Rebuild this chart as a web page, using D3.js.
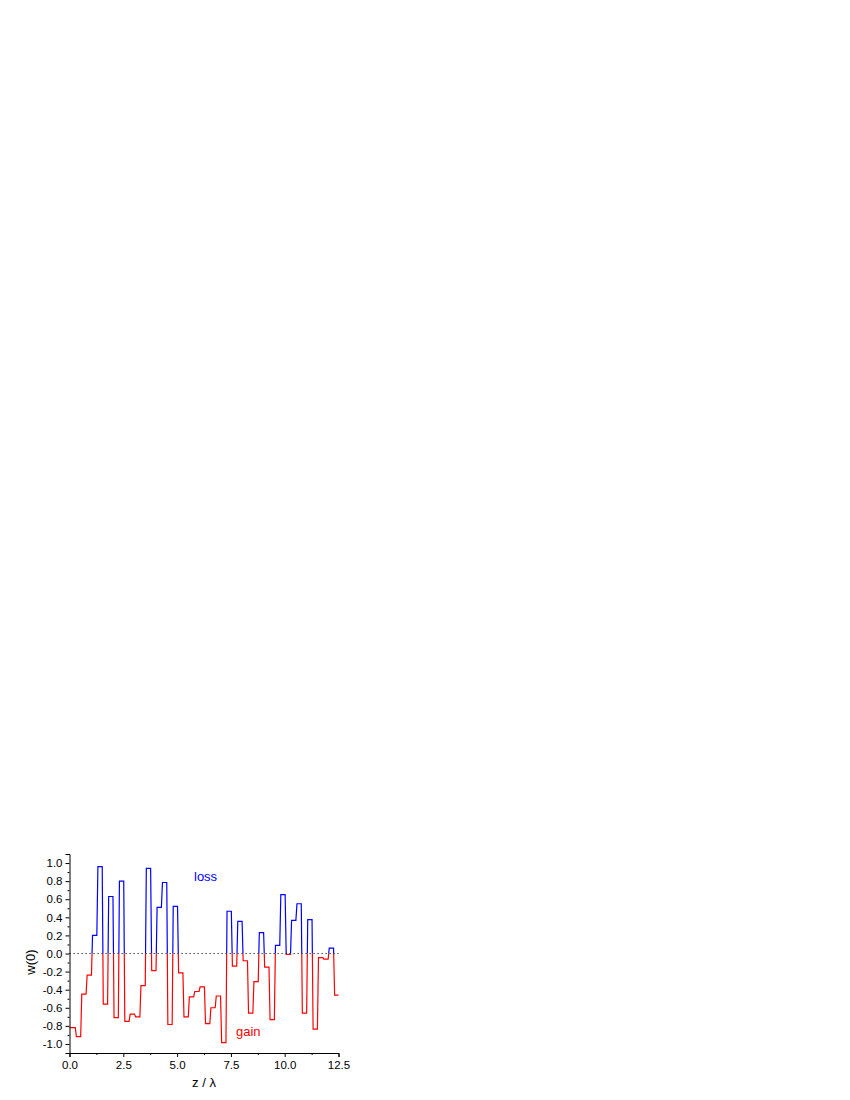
<!DOCTYPE html>
<html lang="en">
<head>
<meta charset="utf-8">
<title>w(0) vs z</title>
<script src="https://d3js.org/d3.v7.min.js"></script>
<style>
  body { margin: 0; background: #fff; }
  svg { display: block; font-family: "Liberation Sans", Arial, sans-serif; }
  .axis path, .axis line { stroke: #000; }
  .axis text { font-size: 11.5px; fill: #000; }
</style>
</head>
<body>
<div id="chart"></div>
<script>

var width = 850, height = 1100;

// step values of w(0), one per 0.25 lambda cell
var stepWidth = 0.25;
var wValues = [
  -0.82, -0.92, -0.45, -0.24, 0.20, 0.96, -0.56, 0.63, -0.71, 0.80,
  -0.75, -0.67, -0.70, -0.355, 0.94, -0.19, 0.51, 0.785, -0.785, 0.52,
  -0.215, -0.70, -0.48, -0.42, -0.37, -0.775, -0.60, -0.47, -0.985, 0.467,
  -0.14, 0.355, -0.08, -0.66, -0.31, 0.23, -0.15, -0.73, 0.09, 0.65,
  -0.01, 0.367, 0.55, -0.66, 0.375, -0.837, -0.045, -0.063, 0.06, -0.46
];

var xTicks = [0, 2.5, 5, 7.5, 10, 12.5];
var xMinor = [1.25, 3.75, 6.25, 8.75, 11.25];
var yTicks = [-1.0, -0.8, -0.6, -0.4, -0.2, 0.0, 0.2, 0.4, 0.6, 0.8, 1.0];
var yMinor = [-1.1, -0.9, -0.7, -0.5, -0.3, -0.1, 0.1, 0.3, 0.5, 0.7, 0.9, 1.1];

var x = d3.scaleLinear().domain([0, 12.5]).range([69.5, 338.5]);
var y = d3.scaleLinear().domain([-1.1, 1.1]).range([1053, 854]);

// plain hyphen for negatives, like the original
var fmt = function(d) { return d3.format(".1f")(d).replace("\u2212", "-"); };

var svg = d3.select("#chart").append("svg")
    .attr("width", width)
    .attr("height", height);

// build the step line: plateau per cell, short ramp at each cell edge
var pts = [];
wValues.forEach(function(v, k) {
  var x0 = k === 0 ? 0 : k * stepWidth + 0.07;
  var x1 = k === wValues.length - 1 ? 12.5 : (k + 1) * stepWidth + 0.02;
  pts.push([x0, v]);
  pts.push([x1, v]);
});

var line = d3.line()
    .x(function(d) { return x(d[0]); })
    .y(function(d) { return y(d[1]); });

var defs = svg.append("defs");
defs.append("clipPath").attr("id", "above")
  .append("rect")
    .attr("x", x(0) - 5).attr("width", x(12.5) - x(0) + 10)
    .attr("y", 0).attr("height", y(0));
defs.append("clipPath").attr("id", "below")
  .append("rect")
    .attr("x", x(0) - 5).attr("width", x(12.5) - x(0) + 10)
    .attr("y", y(0)).attr("height", height - y(0));

svg.append("path")
    .datum(pts)
    .attr("clip-path", "url(#below)")
    .attr("fill", "none")
    .attr("stroke", "#ff0000")
    .attr("stroke-width", 1.2)
    .attr("d", line);

svg.append("path")
    .datum(pts)
    .attr("clip-path", "url(#above)")
    .attr("fill", "none")
    .attr("stroke", "#0000ff")
    .attr("stroke-width", 1.2)
    .attr("d", line);

// dotted zero line
svg.append("line")
    .attr("x1", x(0)).attr("x2", x(12.5))
    .attr("y1", y(0)).attr("y2", y(0))
    .attr("stroke", "#222")
    .attr("stroke-width", 1.2)
    .attr("stroke-dasharray", "1.2,2.8");

// axes
svg.append("g")
    .attr("class", "axis")
    .attr("transform", "translate(0," + y(-1.1) + ")")
    .call(d3.axisBottom(x).tickValues(xTicks).tickSize(4).tickPadding(4)
      .tickFormat(fmt));

svg.append("g")
    .attr("class", "axis")
    .attr("transform", "translate(0," + y(-1.1) + ")")
    .call(d3.axisBottom(x).tickValues(xMinor).tickSize(2).tickFormat(""))
  .select(".domain").remove();

svg.append("g")
    .attr("class", "axis")
    .attr("transform", "translate(" + x(0) + ",0)")
    .call(d3.axisLeft(y).tickValues(yTicks).tickSize(4).tickPadding(3)
      .tickFormat(fmt));

svg.append("g")
    .attr("class", "axis")
    .attr("transform", "translate(" + x(0) + ",0)")
    .call(d3.axisLeft(y).tickValues(yMinor).tickSize(2).tickFormat(""))
  .select(".domain").remove();

// axis titles
svg.append("text")
    .attr("x", (x(0) + x(12.5)) / 2)
    .attr("y", 1087)
    .attr("text-anchor", "middle")
    .attr("font-size", 13)
    .text("z / \u03bb");

svg.append("text")
    .attr("transform", "translate(35,962) rotate(-90)")
    .attr("text-anchor", "middle")
    .attr("font-size", 13)
    .text("w(0)");

// annotations
svg.append("text")
    .attr("x", 194)
    .attr("y", 881)
    .attr("font-size", 13)
    .attr("fill", "#0000ff")
    .text("loss");

svg.append("text")
    .attr("x", 236)
    .attr("y", 1036)
    .attr("font-size", 13)
    .attr("fill", "#ff0000")
    .text("gain");

</script>
</body>
</html>
